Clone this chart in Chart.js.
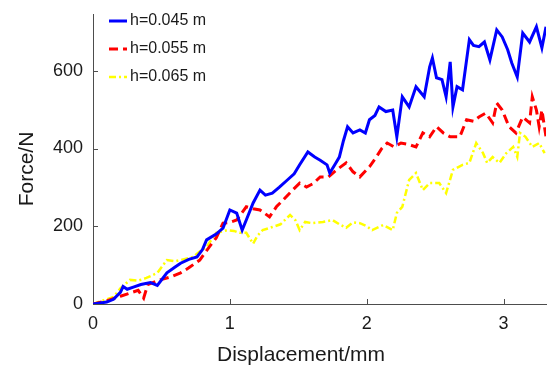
<!DOCTYPE html>
<html>
<head>
<meta charset="utf-8">
<script src="https://cdn.jsdelivr.net/npm/chart.js@4.4.1/dist/chart.umd.min.js"></script>
<style>
  html, body { margin: 0; padding: 0; background: #fff; }
  #wrap { width: 549px; height: 366px; }
</style>
</head>
<body>
<div id="wrap"><canvas id="forceChart" width="549" height="366"></canvas></div>
<script>
// Force vs displacement for three heights
const seriesLabels = ['h=0.045 m', 'h=0.055 m', 'h=0.065 m'];
const seriesColors = ['#0000ff', '#ff0000', '#ffff00'];

const dispA = [0, 0.1, 0.15, 0.2, 0.22, 0.25, 0.3, 0.35, 0.42, 0.47, 0.54, 0.6, 0.64, 0.7, 0.76, 0.8, 0.83, 0.9, 0.95, 1.0,
  1.05, 1.09, 1.12, 1.17, 1.22, 1.26, 1.31, 1.36, 1.42, 1.47, 1.51, 1.57, 1.62, 1.66, 1.71, 1.73, 1.77, 1.8, 1.83, 1.86,
  1.9, 1.95, 1.99, 2.02, 2.06, 2.09, 2.14, 2.19, 2.22, 2.26, 2.31, 2.36, 2.42, 2.46, 2.48, 2.51, 2.55, 2.58, 2.61, 2.63,
  2.66, 2.7, 2.75, 2.78, 2.82, 2.86, 2.9, 2.95, 2.99, 3.03, 3.06, 3.1, 3.14, 3.19, 3.24, 3.28, 3.31];
const forceA = [0, 5, 12, 30, 45, 38, 44, 50, 55, 48, 80, 95, 105, 115, 121, 140, 165, 180, 195, 242,
  234, 190, 216, 260, 293, 280, 285, 300, 319, 335, 358, 391, 378, 370, 358, 337, 360, 378, 420, 456,
  440, 448, 440, 474, 485, 507, 495, 499, 430, 533, 507, 559, 533, 610, 633, 582, 577, 533, 623, 507,
  559, 551, 680, 665, 662, 674, 628, 705, 687, 654, 620, 584, 697, 674, 713, 659, 713];

const dispB = [0, 0.1, 0.2, 0.27, 0.33, 0.37, 0.4, 0.49, 0.57, 0.64, 0.7, 0.78, 0.85, 0.9, 0.95, 1.0, 1.05, 1.12, 1.17, 1.22,
  1.29, 1.34, 1.39, 1.45, 1.51, 1.56, 1.61, 1.66, 1.72, 1.78, 1.85, 1.9, 1.95, 2.02, 2.07, 2.11, 2.15, 2.2, 2.25, 2.31,
  2.36, 2.41, 2.46, 2.51, 2.56, 2.61, 2.68, 2.73, 2.78, 2.82, 2.87, 2.92, 2.95, 2.99, 3.04, 3.09, 3.14, 3.19, 3.21, 3.24,
  3.26, 3.28, 3.31];
const forceB = [0, 8, 20, 28, 35, 15, 50, 62, 70, 80, 93, 113, 147, 170, 208, 210, 216, 250, 245, 242,
  224, 250, 268, 290, 311, 301, 310, 327, 327, 345, 363, 340, 327, 353, 378, 400, 414, 404, 414, 410,
  404, 440, 430, 456, 440, 430, 430, 474, 470, 481, 491, 466, 517, 499, 456, 440, 481, 466, 533, 499,
  456, 499, 430];

const dispC = [0, 0.08, 0.15, 0.2, 0.27, 0.33, 0.39, 0.47, 0.54, 0.6, 0.64, 0.73, 0.78, 0.83, 0.9, 0.98, 1.03, 1.07, 1.12, 1.17,
  1.2, 1.24, 1.31, 1.37, 1.44, 1.48, 1.51, 1.55, 1.6, 1.68, 1.75, 1.8, 1.85, 1.9, 1.95, 2.0, 2.04, 2.12, 2.19, 2.22,
  2.26, 2.31, 2.36, 2.41, 2.46, 2.53, 2.58, 2.63, 2.7, 2.75, 2.8, 2.85, 2.88, 2.92, 2.97, 3.02, 3.07, 3.1, 3.12, 3.16,
  3.21, 3.26, 3.3];
const forceC = [0, 10, 18, 40, 62, 60, 67, 80, 113, 110, 113, 121, 135, 147, 183, 190, 188, 183, 183, 155,
  175, 190, 198, 205, 229, 215, 190, 211, 208, 211, 216, 205, 196, 210, 208, 200, 190, 203, 190, 234,
  250, 319, 337, 293, 311, 311, 285, 345, 358, 363, 414, 388, 363, 378, 363, 388, 404, 378, 440, 430,
  404, 414, 388];

const xTicks = [0, 1, 2, 3];
const yTicks = [0, 200, 400, 600];
const xMax = 3.31;
const yMax = 746;

const axisColor = '#4d4d4d';
const font = 'Arial, "Liberation Sans", Helvetica, sans-serif';

function toPoints(xs, ys) {
  return xs.map((x, i) => ({ x: x, y: ys[i] }));
}

// inward tick marks, axis titles and the legend box
const decorPlugin = {
  id: 'decor',
  afterDraw(chart) {
    const ctx = chart.ctx;
    const area = chart.chartArea;
    const xs = chart.scales.x;
    const ys = chart.scales.y;
    ctx.save();
    ctx.strokeStyle = axisColor;
    ctx.lineWidth = 1;
    ctx.beginPath();
    xTicks.forEach(v => {
      if (v === 0) return;
      const px = Math.round(xs.getPixelForValue(v)) + 0.5;
      ctx.moveTo(px, area.bottom);
      ctx.lineTo(px, area.bottom - 5);
    });
    yTicks.forEach(v => {
      if (v === 0) return;
      const py = Math.round(ys.getPixelForValue(v)) + 0.5;
      ctx.moveTo(area.left, py);
      ctx.lineTo(area.left + 5, py);
    });
    ctx.stroke();

    // axis titles
    ctx.fillStyle = '#1a1a1a';
    ctx.font = '21px ' + font;
    ctx.textAlign = 'center';
    ctx.textBaseline = 'middle';
    ctx.fillText('Displacement/mm', 301, 355);
    ctx.translate(27, 169);
    ctx.rotate(-Math.PI / 2);
    ctx.fillText('Force/N', 0, 0);
    ctx.restore();

    // legend
    ctx.save();
    ctx.font = '16px ' + font;
    ctx.textBaseline = 'middle';
    ctx.textAlign = 'left';
    chart.data.datasets.forEach((ds, i) => {
      const y = 21 + i * 28;
      ctx.strokeStyle = ds.borderColor;
      ctx.lineWidth = ds.borderWidth;
      ctx.setLineDash(ds.borderDash || []);
      ctx.beginPath();
      ctx.moveTo(109, y);
      ctx.lineTo(127, y);
      ctx.stroke();
      ctx.setLineDash([]);
      ctx.fillStyle = '#1a1a1a';
      ctx.fillText(ds.label, 130, y);
    });
    ctx.restore();
  }
};

const styles = [
  { borderWidth: 3, borderDash: [] },
  { borderWidth: 3, borderDash: [9, 5] },
  { borderWidth: 2.5, borderDash: [7, 3, 2, 3] }
];
const pointSets = [toPoints(dispA, forceA), toPoints(dispB, forceB), toPoints(dispC, forceC)];

new Chart(document.getElementById('forceChart'), {
  type: 'line',
  data: {
    datasets: seriesLabels.map((label, i) => ({
      label: label,
      data: pointSets[i],
      borderColor: seriesColors[i],
      backgroundColor: seriesColors[i],
      borderWidth: styles[i].borderWidth,
      borderDash: styles[i].borderDash,
      pointRadius: 0,
      tension: 0,
      fill: false,
      order: i
    }))
  },
  options: {
    responsive: false,
    animation: false,
    layout: { padding: { top: 14, right: 3, left: 0, bottom: 0 } },
    plugins: {
      legend: { display: false },
      tooltip: { enabled: false }
    },
    scales: {
      x: {
        type: 'linear',
        min: 0,
        max: xMax,
        afterBuildTicks: s => { s.ticks = xTicks.map(v => ({ value: v })); },
        afterFit: s => { s.height = 62; s.paddingLeft = 0; s.paddingRight = 0; },
        grid: { drawOnChartArea: false, drawTicks: false },
        border: { display: true, color: axisColor, width: 1 },
        ticks: { color: '#1a1a1a', font: { size: 18, family: font }, padding: 9, maxRotation: 0 }
      },
      y: {
        type: 'linear',
        min: 0,
        max: yMax,
        afterBuildTicks: s => { s.ticks = yTicks.map(v => ({ value: v })); },
        afterFit: s => { s.width = 93; s.paddingTop = 0; s.paddingBottom = 0; },
        grid: { drawOnChartArea: false, drawTicks: false },
        border: { display: true, color: axisColor, width: 1 },
        ticks: { color: '#1a1a1a', font: { size: 18, family: font }, padding: 10 }
      }
    }
  },
  plugins: [decorPlugin]
});
</script>
</body>
</html>
